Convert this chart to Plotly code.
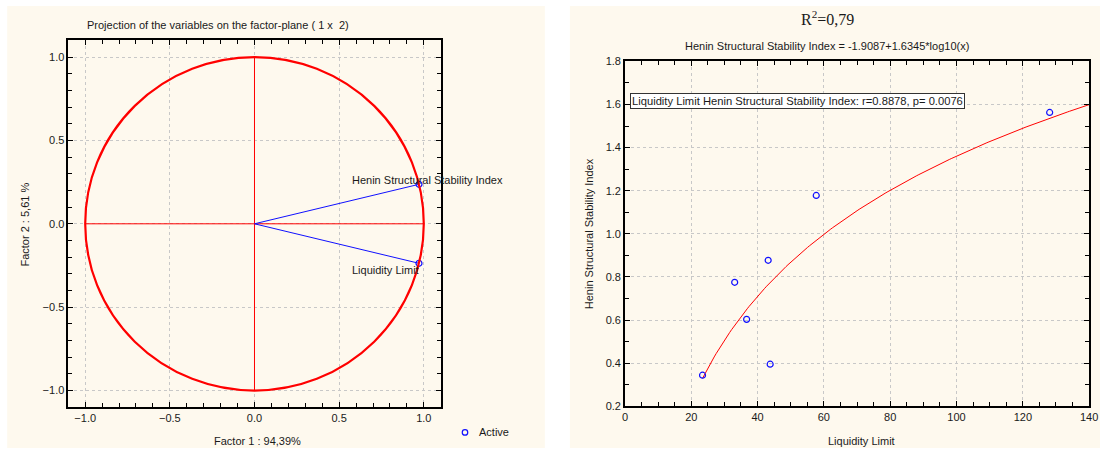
import numpy as np
import plotly.graph_objects as go

# ---------------- data ----------------
# Left panel: projection of variables on the factor plane (1 x 2)
variables = ["Henin Structural Stability Index", "Liquidity Limit"]
factor1 = [0.9716, 0.9716]
factor2 = [0.2369, -0.2369]
label_x = [0.563, 0.563]
label_y = [0.263, -0.275]
unit_radius = 1.0
left_ticks = [-1.0, -0.5, 0.0, 0.5, 1.0]
left_title = "Projection of the variables on the factor-plane ( 1 x  2)"
factor1_label = "Factor 1 : 94,39%"
factor2_label = "Factor 2 : 5,61 %"
legend_label = "Active"

# Right panel: Henin index vs liquidity limit
liquidity_limit = [23.4, 33.1, 36.7, 43.2, 43.8, 57.7, 128.1]
henin_index = [0.344, 0.775, 0.603, 0.877, 0.395, 1.178, 1.563]
fit_intercept = -1.9087
fit_slope = 1.6345
fit_x_end = 140
r_value = 0.8878
p_value = 0.0076
r2_text = "0,79"
right_xticks = [0, 20, 40, 60, 80, 100, 120, 140]
right_yticks = [0.2, 0.4, 0.6, 0.8, 1.0, 1.2, 1.4, 1.6, 1.8]

# ---------------- figure ----------------
W, H = 1109, 454
# calibration of the rendered picture (offset / scale observed on output)
AX, BX = 2.8, 0.988
AY, BY = 5.6, 0.974


def px(x):
    return min(1.0, max(0.0, (x - AX) / BX / W))


def py(y):
    return min(1.0, max(0.0, 1 - (y - AY) / BY / H))


FONT = "Liberation Sans, Arial, sans-serif"
TXT = "#1a1a1a"
CREAM = "#FEF9EE"
GRID = "#c8c8c8"
BLUE = "#1010ff"
FS = 11

fig = go.Figure()

# left: red cross
fig.add_trace(go.Scatter(x=[-unit_radius, unit_radius], y=[0, 0], mode="lines",
                         line=dict(color="red", width=1), showlegend=False,
                         hoverinfo="skip", xaxis="x", yaxis="y"))
fig.add_trace(go.Scatter(x=[0, 0], y=[-unit_radius, unit_radius], mode="lines",
                         line=dict(color="red", width=1), showlegend=False,
                         hoverinfo="skip", xaxis="x", yaxis="y"))
# left: vectors
for f1, f2 in zip(factor1, factor2):
    fig.add_trace(go.Scatter(x=[0, f1], y=[0, f2], mode="lines",
                             line=dict(color=BLUE, width=1), showlegend=False,
                             hoverinfo="skip", xaxis="x", yaxis="y"))
fig.add_trace(go.Scatter(x=factor1, y=factor2, mode="markers", name=legend_label,
                         marker=dict(symbol="circle-open", size=6, color=BLUE,
                                     line=dict(width=1.2, color=BLUE)),
                         text=variables, xaxis="x", yaxis="y", cliponaxis=False,
                         showlegend=False))

# right: scatter + fit
fit_x = np.linspace(min(liquidity_limit), fit_x_end, 200)
fit_y = fit_intercept + fit_slope * np.log10(fit_x)
fig.add_trace(go.Scatter(x=fit_x, y=fit_y, mode="lines",
                         line=dict(color="red", width=1), showlegend=False,
                         xaxis="x2", yaxis="y2"))
fig.add_trace(go.Scatter(x=liquidity_limit, y=henin_index, mode="markers",
                         marker=dict(symbol="circle-open", size=6, color=BLUE,
                                     line=dict(width=1.2, color=BLUE)),
                         showlegend=False, xaxis="x2", yaxis="y2"))

axis_common = dict(showline=True, linecolor="black", linewidth=1.5, mirror="ticks",
                   ticks="inside", ticklen=5, tickcolor="black",
                   showgrid=True, gridcolor=GRID, griddash="3px,3px", gridwidth=1,
                   zeroline=False, tickfont=dict(family=FONT, size=FS, color=TXT))

fig.update_layout(
    width=W, height=H, margin=dict(l=0, r=0, t=0, b=0),
    paper_bgcolor="white", plot_bgcolor="white", showlegend=False,
    font=dict(family=FONT, size=FS, color=TXT),
    xaxis=dict(domain=[px(68), px(440)], range=[-1.1, 1.1], tickvals=left_ticks,
               tickformat=".1f", minor=dict(dtick=0.1, ticks="inside", ticklen=4,
                                            tickcolor="black", showgrid=False),
               anchor="y", **axis_common),
    yaxis=dict(domain=[py(407), py(40)], range=[-1.1, 1.1], tickvals=left_ticks,
               tickformat=".1f", minor=dict(dtick=0.1, ticks="inside", ticklen=4,
                                            tickcolor="black", showgrid=False),
               anchor="x", **axis_common),
    # right end kept inside the page so that the "140" label is not clipped
    xaxis2=dict(domain=[px(624), 1098 / W], range=[0, 140], tickvals=right_xticks,
                minor=dict(dtick=5, ticks="inside", ticklen=4, tickcolor="black",
                           showgrid=False),
                anchor="y2", **axis_common),
    yaxis2=dict(domain=[py(406), py(61)], range=[0.2, 1.8], tickvals=right_yticks,
                tickformat=".1f", minor=dict(dtick=0.1, ticks="inside", ticklen=4,
                                             tickcolor="black", showgrid=False),
                anchor="x2", **axis_common),
    shapes=[
        dict(type="rect", xref="paper", yref="paper", x0=px(7), x1=px(544),
             y0=0, y1=py(5), fillcolor=CREAM, line=dict(width=0), layer="below"),
        dict(type="rect", xref="paper", yref="paper", x0=px(569), x1=px(1107),
             y0=0, y1=py(4), fillcolor=CREAM, line=dict(width=0), layer="below"),
        dict(type="circle", xref="x", yref="y", x0=-unit_radius, y0=-unit_radius,
             x1=unit_radius, y1=unit_radius, line=dict(color="red", width=2.2)),
        # legend marker
        dict(type="circle", xref="paper", yref="paper",
             x0=px(461.5), x1=px(467), y0=py(435), y1=py(429.5),
             line=dict(color=BLUE, width=1.2)),
    ],
)

ann = []
ann.append(dict(text=left_title, x=px(218), y=py(25), xref="paper", yref="paper",
                showarrow=False, xanchor="center", yanchor="middle"))
ann.append(dict(text=factor1_label, x=px(257), y=py(441), xref="paper", yref="paper",
                showarrow=False, xanchor="center", yanchor="middle"))
ann.append(dict(text=factor2_label, x=px(25), y=py(224), xref="paper", yref="paper",
                showarrow=False, xanchor="center", yanchor="middle", textangle=-90))
for name, lx, ly in zip(variables, label_x, label_y):
    ann.append(dict(text=name, x=lx, y=ly, xref="x", yref="y", showarrow=False,
                    xanchor="left", yanchor="middle"))
ann.append(dict(text=legend_label, x=px(476), y=py(432), xref="paper", yref="paper",
                showarrow=False, xanchor="left", yanchor="middle"))

ann.append(dict(text="R<sup>2</sup>=" + r2_text, x=px(826), y=py(18),
                xref="paper", yref="paper", showarrow=False, xanchor="center",
                yanchor="middle",
                font=dict(family="Liberation Serif, Times New Roman, serif", size=16,
                          color=TXT)))
ann.append(dict(text="Henin Structural Stability Index = %.4f+%.4f*log10(x)"
                     % (fit_intercept, fit_slope),
                x=px(826), y=py(46), xref="paper", yref="paper", showarrow=False,
                xanchor="center", yanchor="middle"))
ann.append(dict(text="Liquidity Limit Henin Structural Stability Index: r=%.4f, p= %.4f"
                     % (r_value, p_value),
                x=px(629), y=py(101), xref="paper", yref="paper", showarrow=False,
                xanchor="left", yanchor="middle", bgcolor="white", bordercolor="#333",
                borderwidth=1, borderpad=1, font=dict(size=11.2)))
ann.append(dict(text="Liquidity Limit", x=px(860), y=py(441), xref="paper",
                yref="paper", showarrow=False, xanchor="center", yanchor="middle"))
ann.append(dict(text="Henin Structural Stability Index", x=px(588), y=py(233),
                xref="paper", yref="paper", showarrow=False, xanchor="center",
                yanchor="middle", textangle=-90))
fig.update_layout(annotations=ann)

post = (
    "document.documentElement.style.margin='0';"
    "document.body.style.margin='0';"
    "document.documentElement.style.background='" + CREAM + "';"
    "document.body.style.background='" + CREAM + "';"
    "document.documentElement.style.overflow='hidden';"
    "document.body.style.overflow='hidden';"
    "var gd=document.getElementById('{plot_id}');"
    "gd.style.position='fixed';gd.style.left='0px';gd.style.top='0px';"
)
fig.write_html("out.html", config={"displayModeBar": False}, post_script=post)
